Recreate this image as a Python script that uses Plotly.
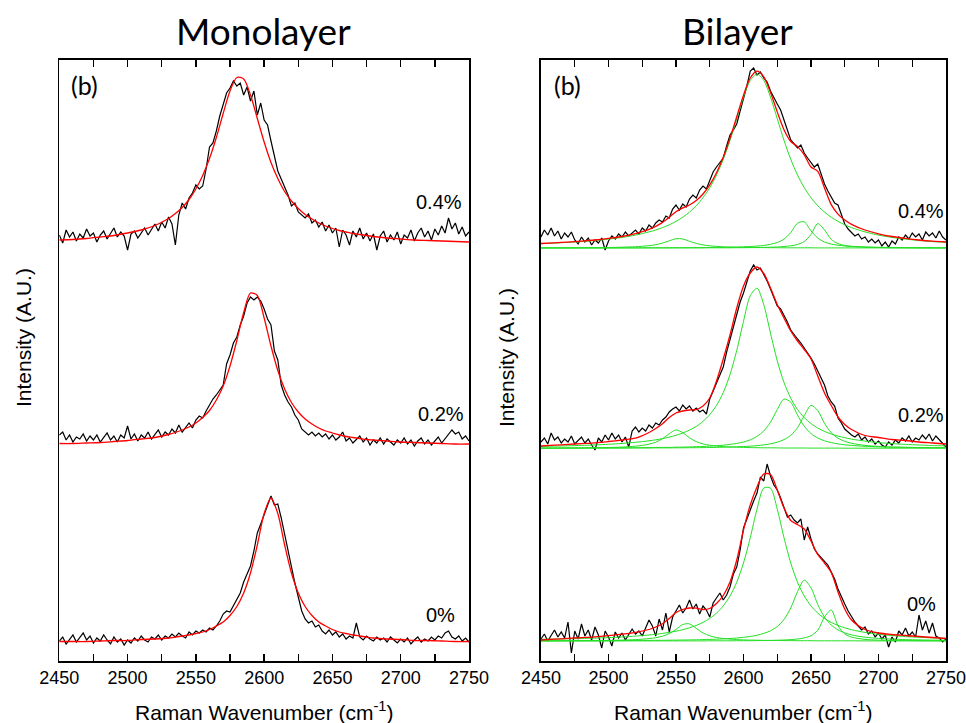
import plotly.graph_objects as go

# ---------------- axis / label data ----------------
TICK_VALUES = [2450, 2500, 2550, 2600, 2650, 2700, 2750]
TICK_TEXT = ['2450', '2500', '2550', '2600', '2650', '2700', '2750']
MINOR_TICKS = [2475, 2525, 2575, 2625, 2675, 2725]
PANEL_TITLES = ['Monolayer', 'Bilayer']
STRAIN_LABELS = ['0.4%', '0.2%', '0%']
X_TITLE = 'Raman Wavenumber (cm<sup>-1</sup>)'
Y_TITLE = 'Intensity (A.U.)'

# measured spectra sampling (cm-1)
SPEC_X = [2450 + 2.5 * i for i in range(121)]
# sampling of the fitted curves (cm-1)
FIT_X = [2450, 2460, 2470, 2480, 2490, 2500, 2510, 2520,
         2530, 2535, 2540, 2545, 2550, 2555, 2560, 2565, 2570, 2575, 2580, 2585,
         2590, 2595, 2600, 2605, 2610, 2615, 2620, 2625, 2630, 2635, 2640, 2645,
         2650, 2655, 2660, 2665, 2670, 2675,
         2680, 2690, 2700, 2710, 2720, 2730, 2740, 2750]

# ---------------- Monolayer (offset intensities, A.U.) ----------------
mono_data_04 = [426, 418, 431, 424, 429, 420, 427, 423, 432, 425,
                428, 419, 426, 430, 422, 427, 433, 424, 429, 425,
                411, 427, 430, 423, 428, 433, 426, 431, 437, 430,
                439, 433, 444, 437, 416, 446, 458, 452, 463, 468,
                476, 472, 475, 492, 514, 518, 530, 545, 556, 568,
                573, 580, 575, 578, 566, 574, 560, 570, 546, 558,
                541, 536, 520, 505, 490, 482, 474, 466, 455, 458,
                449, 446, 443, 447, 438, 441, 434, 439, 430, 436,
                428, 433, 414, 431, 426, 416, 430, 424, 433, 422,
                428, 420, 427, 411, 425, 430, 419, 426, 421, 429,
                417, 426, 423, 431, 420, 428, 433, 424, 430, 421,
                432, 426, 435, 428, 443, 432, 438, 427, 434, 425,
                429]
mono_fit_04 = [421, 421.5, 422.5, 424, 425.5, 428, 431, 435.5,
               442.5, 447.5, 453.5, 461.5, 472, 485.5, 502.5, 523.5, 547.5, 570,
               583.5, 582, 566, 542.5, 519, 498.5, 482.5, 469.5, 460, 452.5,
               446.5, 442, 438, 435, 432.5, 430.5, 429, 427.5, 426.5, 425.5,
               424.5, 423, 422, 421, 420.5, 420, 419.5, 419]

mono_data_02 = [226, 229, 221, 226, 219, 224, 222, 227, 220, 225,
                221, 226, 219, 224, 228, 221, 225, 219, 226, 223,
                235, 222, 227, 220, 226, 223, 229, 222, 227, 231,
                224, 229, 226, 232, 228, 236, 229, 234, 238, 233,
                241, 245, 243, 250, 256, 262, 266, 271, 276, 297,
                306, 318, 324, 336, 345, 358, 364, 361, 364, 360,
                352, 342, 336, 310, 301, 276, 266, 259, 254, 246,
                241, 232, 229, 226, 229, 225, 228, 224, 227, 222,
                226, 221, 224, 229, 220, 223, 218, 222, 225, 219,
                223, 216, 221, 218, 223, 217, 222, 219, 216, 221,
                218, 223, 217, 221, 215, 220, 223, 217, 221, 216,
                220, 224, 218, 222, 226, 231, 227, 229, 222, 225,
                220]
mono_fit_02 = [217.5, 217.5, 218, 218.5, 219.5, 220.5, 222, 223.5,
               226.5, 228.5, 231, 234, 238, 243.5, 250.5, 261, 275, 295,
               320.5, 348.5, 368, 365.5, 343, 315, 290.5, 272, 258.5, 249,
               242, 237, 233, 230, 228, 226, 224.5, 223.5, 222.5, 221.5,
               221, 220, 219, 218.5, 218, 217.5, 217, 217]

mono_data_00 = [20, 24, 17, 22, 26, 19, 23, 28, 21, 25,
                18, 23, 20, 26, 21, 17, 24, 19, 22, 16,
                21, 18, 23, 20, 25, 21, 19, 24, 22, 26,
                21, 25, 23, 27, 24, 28, 25, 23, 29, 26,
                30, 28, 31, 29, 33, 31, 35, 40, 47, 50,
                49, 55, 62, 68, 79, 87, 95, 110, 128, 137,
                146, 155, 165, 156, 157, 143, 126, 109, 93, 78,
                64, 50, 42, 38, 40, 34, 36, 30, 27, 31,
                26, 29, 24, 27, 22, 25, 23, 38, 24, 21,
                25, 22, 20, 24, 21, 23, 19, 24, 21, 18,
                22, 19, 23, 17, 21, 24, 19, 22, 20, 24,
                21, 25, 23, 28, 30, 24, 22, 25, 20, 23,
                19]
mono_fit_00 = [19.5, 19.5, 19.5, 20, 20.5, 20.5, 21.5, 22,
               23, 24, 25, 26, 27.5, 29, 31.5, 35, 39, 45.5,
               54.5, 68, 88, 116, 147.5, 163, 147.5, 116, 88, 68,
               54.5, 45.5, 39, 35, 31.5, 29, 27.5, 26, 25, 24,
               23, 22, 21.5, 20.5, 20.5, 20, 19.5, 19.5]

# ---------------- Bilayer ----------------
bi_data_04 = [424, 431, 426, 433, 425, 430, 422, 428, 424, 429,
              421, 417, 424, 419, 423, 416, 421, 418, 423, 411,
              420, 425, 422, 427, 424, 429, 425, 428, 431, 427,
              433, 430, 436, 433, 438, 441, 439, 445, 443, 452,
              456, 451, 457, 454, 462, 466, 463, 471, 475, 472,
              481, 489, 494, 499, 503, 515, 526, 531, 537, 550,
              562, 575, 590, 593, 586, 589, 583, 579, 570, 563,
              557, 551, 542, 531, 521, 517, 513, 516, 508, 503,
              499, 494, 497, 487, 477, 470, 464, 458, 456, 446,
              437, 432, 429, 425, 427, 422, 424, 419, 422, 418,
              421, 415, 419, 414, 420, 417, 424, 421, 426, 422,
              428, 424, 427, 421, 429, 425, 428, 423, 430, 424,
              421]
bi_fit_04 = [417.5, 418.2, 418.9, 419.8, 421, 422.6, 424.5, 427.4,
             431.6, 434.6, 438.6, 443.7, 449.3, 453.2, 456, 460.4, 467, 476.1,
             488.3, 503.8, 522.6, 544.3, 565.9, 583, 589.8, 584.2, 568.6, 549.1,
             531.3, 519.5, 514.4, 506.2, 494, 489.7, 473.1, 456.4, 446.9, 440.9,
             436.7, 431, 427.2, 424.5, 422.6, 421, 419.8, 419]
bi_comp_04_main = [417.3, 417.9, 418.6, 419.4, 420.5, 421.9, 423.6, 425.9,
                   429.1, 431, 433.4, 436.2, 439.6, 443.8, 448.9, 455.3, 463.3, 473.3,
                   486, 501.7, 520.7, 542.3, 563.8, 580.6, 587, 580.6, 563.8, 542.3,
                   520.7, 501.7, 486, 473.3, 463.3, 455.3, 448.9, 443.8, 439.6, 436.2,
                   433.4, 429.1, 425.9, 423.6, 421.9, 420.5, 419.4, 418.6]
bi_comp_04_a = [413.1, 413.2, 413.2, 413.3, 413.4, 413.5, 413.8, 414.3,
                415.3, 416.3, 417.9, 420.2, 422.3, 422, 419.7, 417.6, 416.1, 415.2,
                414.6, 414.2, 413.9, 413.7, 413.6, 413.5, 413.4, 413.4, 413.3, 413.3,
                413.2, 413.2, 413.2, 413.2, 413.2, 413.1, 413.1, 413.1, 413.1, 413.1,
                413.1, 413.1, 413.1, 413, 413, 413, 413, 413]
bi_comp_04_b = [413.1, 413.1, 413.1, 413.1, 413.1, 413.1, 413.1, 413.1,
                413.2, 413.2, 413.2, 413.2, 413.3, 413.3, 413.3, 413.4, 413.4, 413.5,
                413.6, 413.6, 413.8, 413.9, 414.2, 414.5, 414.9, 415.6, 416.7, 418.5,
                421.9, 428.4, 437.8, 439.2, 430.1, 422.9, 419, 416.9, 415.8, 415,
                414.5, 414, 413.7, 413.5, 413.4, 413.3, 413.2, 413.2]
bi_comp_04_c = [413, 413, 413, 413, 413, 413, 413.1, 413.1,
                413.1, 413.1, 413.1, 413.1, 413.1, 413.1, 413.1, 413.1, 413.1, 413.2,
                413.2, 413.2, 413.2, 413.3, 413.3, 413.4, 413.5, 413.6, 413.8, 414,
                414.5, 415.2, 416.5, 419.5, 426.5, 437.4, 431.1, 421.6, 417.4, 415.6,
                414.7, 413.9, 413.5, 413.4, 413.3, 413.2, 413.2, 413.1]

bi_data_02 = [219, 223, 217, 228, 221, 224, 218, 222, 219, 225,
              217, 221, 224, 218, 222, 216, 211, 223, 219, 226,
              221, 228, 222, 226, 219, 224, 214, 230, 234, 229,
              233, 230, 236, 233, 238, 236, 241, 244, 249, 252,
              254, 250, 256, 252, 255, 250, 253, 249, 251, 247,
              262, 270, 278, 286, 294, 309, 321, 335, 347, 359,
              368, 378, 390, 396, 391, 393, 387, 380, 372, 363,
              355, 352, 346, 339, 331, 326, 322, 318, 313, 309,
              303, 297, 290, 283, 276, 265, 259, 255, 243, 238,
              232, 229, 226, 224, 227, 221, 224, 219, 222, 217,
              220, 216, 214, 219, 216, 221, 218, 223, 220, 225,
              219, 223, 221, 226, 222, 227, 220, 225, 221, 218,
              214]
bi_fit_02 = [215, 215.8, 216.6, 217.4, 218.2, 219.5, 221, 222.8,
             228.5, 232.5, 237.3, 243.5, 248, 250, 251, 251.5, 255, 263,
             280, 302, 326, 353, 375, 388, 394, 387.5, 373, 356.5,
             343, 330, 320, 311.5, 302, 285, 268, 255.5, 244, 236.5,
             231.5, 225.5, 223.5, 221.5, 220.5, 219, 218, 217]
bi_comp_02_main = [214.6, 214.9, 215.2, 215.6, 216.1, 216.7, 217.6, 218.7,
                   220.2, 221.2, 222.4, 223.9, 225.7, 228, 230.9, 234.6, 239.6, 246.3,
                   255.6, 268.4, 286.4, 310.6, 339.7, 365.3, 372.8, 356.4, 327.8, 300.2,
                   278.5, 262.8, 251.5, 243.4, 237.4, 233, 229.6, 227, 224.9, 223.3,
                   221.9, 219.9, 218.4, 217.4, 216.6, 216, 215.5, 215.1]
bi_comp_02_a = [212.9, 213, 213, 213.1, 213.3, 213.5, 213.9, 214.8,
                216.8, 218.8, 222.3, 227.3, 231, 228.4, 223.2, 219.4, 217.1, 215.8,
                214.9, 214.4, 214, 213.8, 213.6, 213.4, 213.3, 213.2, 213.2, 213.1,
                213, 213, 213, 213, 212.9, 212.9, 212.9, 212.9, 212.9, 212.8,
                212.8, 212.8, 212.8, 212.8, 212.8, 212.8, 212.8, 212.8]
bi_comp_02_b = [212.9, 212.9, 213, 213, 213.1, 213.1, 213.2, 213.3,
                213.4, 213.5, 213.6, 213.6, 213.8, 213.9, 214.1, 214.3, 214.5, 214.9,
                215.3, 215.8, 216.6, 217.6, 219, 221.2, 224.6, 230, 238.8, 251.4,
                261.9, 258.8, 246, 234.8, 227.5, 223, 220.2, 218.4, 217.1, 216.2,
                215.6, 214.7, 214.2, 213.8, 213.6, 213.4, 213.3, 213.2]
bi_comp_02_c = [212.8, 212.8, 212.9, 212.9, 212.9, 212.9, 212.9, 213,
                213, 213.1, 213.1, 213.1, 213.2, 213.2, 213.3, 213.3, 213.4, 213.5,
                213.6, 213.8, 214, 214.2, 214.5, 214.8, 215.4, 216.1, 217.2, 218.8,
                221.4, 225.7, 233.3, 245.3, 255.6, 250.5, 237.7, 228.3, 222.8, 219.7,
                217.7, 215.6, 214.6, 214, 213.7, 213.5, 213.3, 213.2]

bi_data_00 = [22, 27, 20, 26, 31, 24, 29, 23, 39, 8,
              30, 22, 37, 25, 31, 21, 34, 26, 13, 30,
              24, 15, 29, 23, 28, 21, 26, 32, 27, 30,
              25, 33, 41, 35, 25, 42, 31, 48, 29, 44,
              50, 56, 48, 53, 61, 52, 57, 47, 55, 51,
              44, 58, 63, 68, 61, 66, 74, 87, 94, 111,
              133, 143, 151, 160, 168, 184, 180, 197, 185, 176,
              171, 163, 153, 144, 146, 141, 138, 142, 121, 134,
              122, 112, 107, 103, 99, 96, 89, 82, 72, 64,
              57, 50, 44, 39, 35, 31, 34, 27, 30, 24,
              28, 22, 26, 14, 24, 19, 30, 26, 33, 25,
              29, 24, 46, 31, 40, 28, 38, 25, 23, 19,
              22]
bi_fit_00 = [21, 21.8, 22.6, 23.4, 24.2, 25.4, 26.8, 28.7,
             31.5, 34, 37.3, 42.5, 48.5, 51.5, 53, 52.8, 51.5, 52.5,
             57.5, 65.5, 79, 101, 131, 156, 174, 187, 186.5, 171,
             153, 140.5, 136.5, 132, 120, 106.5, 98, 88.5, 69, 52,
             41, 31.5, 28, 26.5, 25.5, 24.5, 23.5, 22.5]
bi_comp_00_main = [21.7, 21.9, 22.2, 22.5, 22.9, 23.4, 24, 24.9,
                   26, 26.7, 27.6, 28.6, 29.8, 31.3, 33.2, 35.6, 38.6, 42.6,
                   47.9, 55.1, 65, 78.8, 98, 123.3, 151.8, 172.9, 172.9, 151.8,
                   123.3, 98, 78.8, 65, 55.1, 47.9, 42.6, 38.6, 35.6, 33.2,
                   31.3, 28.6, 26.7, 25.4, 24.4, 23.7, 23.1, 22.7]
bi_comp_00_a = [20.2, 20.2, 20.3, 20.4, 20.5, 20.6, 20.9, 21.4,
                22.4, 23.3, 24.8, 27.4, 31.6, 36.5, 37.1, 32.6, 28.1, 25.2,
                23.5, 22.5, 21.9, 21.4, 21.1, 20.9, 20.8, 20.6, 20.5, 20.5,
                20.4, 20.4, 20.3, 20.3, 20.3, 20.2, 20.2, 20.2, 20.2, 20.2,
                20.2, 20.1, 20.1, 20.1, 20.1, 20.1, 20.1, 20.1]
bi_comp_00_b = [20.2, 20.2, 20.3, 20.3, 20.3, 20.4, 20.4, 20.5,
                20.6, 20.7, 20.7, 20.8, 20.9, 21, 21.1, 21.2, 21.4, 21.6,
                21.8, 22.1, 22.5, 23, 23.7, 24.5, 25.8, 27.6, 30.2, 34.5,
                41.5, 53, 69.3, 80.8, 73.2, 56.6, 43.8, 35.9, 31.1, 28.1,
                26.1, 23.8, 22.6, 21.9, 21.4, 21.1, 20.9, 20.7]
bi_comp_00_c = [20, 20, 20, 20, 20, 20, 20.1, 20.1,
                20.1, 20.1, 20.1, 20.1, 20.1, 20.1, 20.1, 20.1, 20.1, 20.2,
                20.2, 20.2, 20.2, 20.3, 20.3, 20.3, 20.4, 20.5, 20.6, 20.8,
                21, 21.4, 22, 23.1, 25.3, 30.7, 44, 51, 35.3, 27.1,
                23.9, 21.6, 20.9, 20.5, 20.4, 20.3, 20.2, 20.2]

for _arr in [mono_data_04, mono_data_02, mono_data_00, bi_data_04, bi_data_02, bi_data_00]:
    assert len(_arr) == len(SPEC_X), len(_arr)
for _arr in [mono_fit_04, mono_fit_02, mono_fit_00, bi_fit_04, bi_fit_02, bi_fit_00,
             bi_comp_04_main, bi_comp_04_a, bi_comp_04_b, bi_comp_04_c,
             bi_comp_02_main, bi_comp_02_a, bi_comp_02_b, bi_comp_02_c,
             bi_comp_00_main, bi_comp_00_a, bi_comp_00_b, bi_comp_00_c]:
    assert len(_arr) == len(FIT_X), len(_arr)

BLACK = '#000000'
RED = '#ff0000'
GREEN = '#22e022'

fig = go.Figure()


def add_line(x, y, color, width, axis, smooth=False):
    line = dict(color=color, width=width)
    if smooth:
        line.update(shape='spline', smoothing=0.8)
    fig.add_trace(go.Scatter(
        x=x, y=y, mode='lines', xaxis='x' + axis, yaxis='y' + axis,
        line=line, showlegend=False, hoverinfo='skip'))


# Monolayer panel
for data in [mono_data_04, mono_data_02, mono_data_00]:
    add_line(SPEC_X, data, BLACK, 1.2, '')
for fit in [mono_fit_04, mono_fit_02, mono_fit_00]:
    add_line(FIT_X, fit, RED, 1.3, '', smooth=True)

# Bilayer panel
for data in [bi_data_04, bi_data_02, bi_data_00]:
    add_line(SPEC_X, data, BLACK, 1.2, '2')
for comp in [bi_comp_04_main, bi_comp_04_a, bi_comp_04_b, bi_comp_04_c,
             bi_comp_02_main, bi_comp_02_a, bi_comp_02_b, bi_comp_02_c,
             bi_comp_00_main, bi_comp_00_a, bi_comp_00_b, bi_comp_00_c]:
    add_line(FIT_X, comp, GREEN, 1.0, '2', smooth=True)
for fit in [bi_fit_04, bi_fit_02, bi_fit_00]:
    add_line(FIT_X, fit, RED, 1.3, '2', smooth=True)

# the page's body margin is removed below, so the figure fills the window
W, H = 966, 723
TOP, BOTTOM = 60, 661           # frame edges in window pixels
LEFT_X = (59.3, 469.0)
RIGHT_X = (541.0, 946.0)


def fx(px):
    return px / W


def fy(py):
    return 1 - py / H


tick_font = dict(family='Liberation Sans, Arial, sans-serif', size=18, color='black')


def xaxis_cfg(px_range, anchor):
    return dict(domain=[fx(px_range[0]), fx(px_range[1])], range=[2450, 2750],
                tickvals=TICK_VALUES, ticktext=TICK_TEXT, ticks='inside', ticklen=7,
                tickwidth=1.3, tickcolor='black', showline=True, linecolor='black',
                linewidth=1.6, mirror='ticks', showgrid=False, zeroline=False,
                minor=dict(tickvals=MINOR_TICKS, ticks='inside', ticklen=7,
                           tickwidth=1.3, tickcolor='black', showgrid=False),
                tickfont=tick_font, ticklabelstandoff=0, ticklabeloverflow='allow',
                fixedrange=True, automargin=False, anchor=anchor)


def yaxis_cfg(anchor):
    return dict(domain=[fy(BOTTOM), fy(TOP)], range=[0, 601],
                showticklabels=False, ticks='', showline=True, linecolor='black',
                linewidth=1.6, mirror=True, showgrid=False, zeroline=False,
                anchor=anchor, fixedrange=True, automargin=False)


label_font = dict(family='Liberation Sans, Arial, sans-serif', size=21, color='black')
pct_font = dict(family='Liberation Sans, Arial, sans-serif', size=20, color='black')
title_font = dict(family='Lato, Carlito, sans-serif', size=37, color='black')
b_font = dict(family='Lato, Carlito, sans-serif', size=25, color='black')


def ann(text, px, py, font, angle=0):
    return dict(text=text, x=fx(px), y=fy(py), xref='paper', yref='paper',
                showarrow=False, font=font, textangle=angle,
                xanchor='center', yanchor='middle')


annotations = [
    ann(PANEL_TITLES[0], 263, 31, title_font),
    ann(PANEL_TITLES[1], 737, 31, title_font),
    ann('(b)', 84, 85, b_font),
    ann('(b)', 567, 85, b_font),
    ann(X_TITLE, 264, 711, label_font),
    ann(X_TITLE, 743, 711, label_font),
    ann(Y_TITLE, 23, 338, label_font, -90),
    ann(Y_TITLE, 506, 358, label_font, -90),
    ann(STRAIN_LABELS[0], 439, 202, pct_font),
    ann(STRAIN_LABELS[1], 441, 414, pct_font),
    ann(STRAIN_LABELS[2], 440, 615, pct_font),
    ann(STRAIN_LABELS[0], 921, 211, pct_font),
    ann(STRAIN_LABELS[1], 921, 415, pct_font),
    ann(STRAIN_LABELS[2], 921, 604, pct_font),
]

fig.update_layout(
    width=W, height=H, margin=dict(l=0, r=0, t=0, b=0, pad=0, autoexpand=False),
    paper_bgcolor='white', plot_bgcolor='white',
    xaxis=xaxis_cfg(LEFT_X, 'y'), yaxis=yaxis_cfg('x'),
    xaxis2=xaxis_cfg(RIGHT_X, 'y2'), yaxis2=yaxis_cfg('x2'),
    annotations=annotations, showlegend=False,
)

fig.write_html('out.html',
               config={'displayModeBar': False, 'staticPlot': True},
               post_script="document.body.style.margin='0px';"
                           "document.body.style.overflow='hidden';")
